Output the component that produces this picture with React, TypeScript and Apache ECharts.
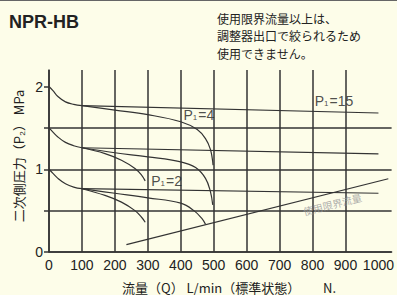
import React, { useEffect, useRef } from 'react';
import * as echarts from 'echarts';

// axis ticks / labels
const xLabelValues = [0, 100, 200, 300, 400, 500, 600, 700, 800, 900, 1000];
const yTickValues = [0, 0.5, 1, 1.5, 2];
const yLabelValues = [0, 1, 2];

// inlet curves (from set pressure at zero flow)
const startHigh = [[0, 2.0], [12, 1.95], [27, 1.88], [50, 1.815], [75, 1.785], [100, 1.77]];
const startMid = [[0, 1.5], [12, 1.45], [27, 1.39], [50, 1.325], [75, 1.285], [100, 1.26]];
const startLow = [[0, 1.0], [12, 0.95], [27, 0.89], [50, 0.825], [75, 0.785], [100, 0.765]];

// P1 = 15 branches
const p15High = [[100, 1.77], [1000, 1.68]];
const p15Mid = [[100, 1.26], [1000, 1.185]];
const p15Low = [[100, 0.765], [1000, 0.71]];

// P1 = 4 branches
const p4High = [[100, 1.77], [200, 1.715], [300, 1.66], [400, 1.575], [450, 1.48], [475, 1.37], [490, 1.24], [498, 1.05]];
const p4Mid = [[100, 1.26], [200, 1.2], [300, 1.15], [400, 1.09], [445, 1.02], [475, 0.89], [490, 0.73], [497, 0.57]];
const p4Low = [[100, 0.765], [200, 0.71], [300, 0.655], [400, 0.59], [440, 0.5], [465, 0.4], [475, 0.335]];

// P1 = 2 branches
const p2Mid = [[100, 1.26], [170, 1.19], [220, 1.11], [261, 1.01], [281, 0.93], [292, 0.86]];
const p2Low = [[100, 0.765], [170, 0.684], [220, 0.603], [261, 0.5], [281, 0.42], [292, 0.36]];

// flow limit line
const limitLine = [[235, 0.09], [1030, 0.885]];

// label anchors
const labelP15 = [865, 1.83];
const labelP4 = [455, 1.66];
const labelP2 = [357, 0.86];
const labelLimit = [860, 0.58];

// note lines
const noteLines = ['使用限界流量以上は、', '調整器出口で絞られるため', '使用できません。'];

const numFont = "'Liberation Sans', Arial, sans-serif";
const jpFont = "'Noto Sans CJK JP', sans-serif";
const ink = '#333';

function lineSeries(data: number[][], smooth: number | boolean) {
  return {
    type: 'line',
    data,
    smooth,
    symbol: 'none',
    silent: true,
    lineStyle: { color: ink, width: 1.2 },
    z: 3,
  };
}

function pLabel(pos: number[], val: string) {
  return {
    type: 'scatter',
    data: [pos],
    symbolSize: 0,
    silent: true,
    z: 5,
    label: {
      show: true,
      position: 'inside',
      formatter: `{a|P}{b|1}{a|=${val}}`,
      rich: {
        a: { fontFamily: numFont, fontSize: 14, color: '#222', verticalAlign: 'bottom' },
        b: { fontFamily: numFont, fontSize: 8, color: '#222', verticalAlign: 'bottom', padding: [0, 1, 0, 0] },
      },
    },
  };
}

export default function App() {
  const ref = useRef<HTMLDivElement>(null);
  useEffect(() => {
    const chart = echarts.init(ref.current!, null, { renderer: 'svg' });
    const option: any = {
      animation: false,
      backgroundColor: '#fdfde9',
      grid: { left: 49, right: 4, top: 70, bottom: 43 },
      xAxis: {
        type: 'value',
        min: 0,
        max: 1040,
        interval: 100,
        axisLine: { show: true, lineStyle: { color: ink, width: 1.5 } },
        axisTick: { show: false, customValues: xLabelValues },
        axisLabel: {
          customValues: xLabelValues,
          formatter: (v: number) => String(v),
          margin: 6,
          fontFamily: numFont,
          fontSize: 14,
          color: '#222',
        },
        splitLine: { show: true, showMaxLine: false, lineStyle: { color: ink, width: 1.5 } },
      },
      yAxis: {
        type: 'value',
        min: 0,
        max: 2.2,
        interval: 0.5,
        axisLine: { show: true, lineStyle: { color: ink, width: 1.5 } },
        axisTick: { show: true, length: 5, customValues: yTickValues, lineStyle: { color: ink, width: 1.5 } },
        axisLabel: {
          customValues: yLabelValues,
          formatter: (v: number) => String(v),
          margin: 6,
          fontFamily: numFont,
          fontSize: 14,
          color: '#222',
        },
        splitLine: { show: true, showMaxLine: false, lineStyle: { color: ink, width: 1.5 } },
      },
      graphic: [
        { type: 'line', shape: { x1: 0, y1: 0.5, x2: 397, y2: 0.5 }, style: { stroke: '#666', lineWidth: 1 } },
        {
          type: 'text', left: 9, top: 13,
          style: { text: 'NPR-HB', fontFamily: "'Liberation Sans', Arial, sans-serif", fontWeight: 'bold', fontSize: 18, fill: '#222' },
        },
        ...noteLines.map((t, i) => ({
          type: 'text', x: 217, y: 18 + i * 17.5,
          style: { text: t, fontFamily: jpFont, fontSize: 12, fill: '#222', align: 'left', verticalAlign: 'middle' },
        })),
        {
          type: 'text', x: 18, y: 156, rotation: Math.PI / 2,
          style: {
            text: '二次側圧力（P₂） MPa',
            fontFamily: jpFont, fontSize: 13, fill: '#222', align: 'center', verticalAlign: 'middle',
          },
        },
        {
          type: 'text', x: 122, y: 287,
          style: {
            text: '流量（Q） L/min（標準状態）',
            fontFamily: jpFont, fontSize: 13, fill: '#222', align: 'left', verticalAlign: 'middle',
          },
        },
        {
          type: 'text', x: 323, y: 287,
          style: { text: 'N.', fontFamily: jpFont, fontSize: 13, fill: '#222', align: 'left', verticalAlign: 'middle' },
        },
      ],
      series: [
        lineSeries(startHigh, 0.4),
        lineSeries(startMid, 0.4),
        lineSeries(startLow, 0.4),
        lineSeries(p15High, false),
        lineSeries(p15Mid, false),
        lineSeries(p15Low, false),
        lineSeries(p4High, 0.4),
        lineSeries(p4Mid, 0.4),
        lineSeries(p4Low, 0.4),
        lineSeries(p2Mid, 0.4),
        lineSeries(p2Low, 0.4),
        lineSeries(limitLine, false),
        pLabel(labelP15, '15'),
        pLabel(labelP4, '4'),
        pLabel(labelP2, '2'),
        {
          type: 'scatter',
          data: [labelLimit],
          symbolSize: 0,
          silent: true,
          z: 5,
          label: {
            show: true,
            position: 'inside',
            rotate: 14,
            formatter: '使用限界流量',
            fontFamily: jpFont,
            fontSize: 10,
            color: '#999',
          },
        },
      ],
    };
    chart.setOption(option);
    return () => chart.dispose();
  }, []);
  return <div ref={ref} style={{ position: 'absolute', left: 0, top: 0, width: 397, height: 295 }} />;
}
